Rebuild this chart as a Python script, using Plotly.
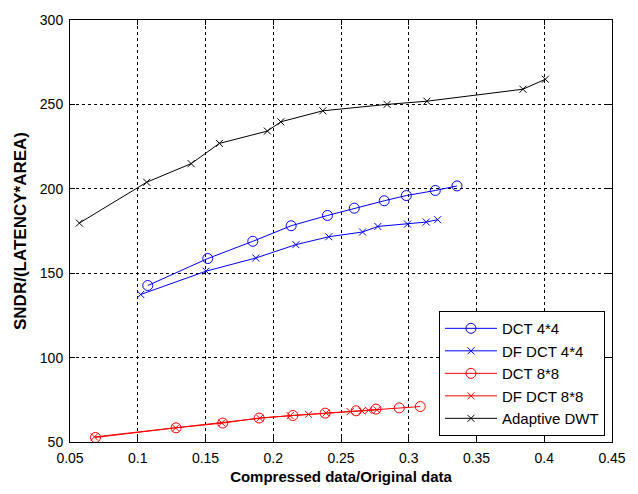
import plotly.graph_objects as go

# ---- data ----
dct44_x = [0.1074, 0.1517, 0.1849, 0.2132, 0.2400, 0.2598, 0.2819, 0.2982, 0.3196, 0.3356]
dct44_y = [142.7, 158.7, 168.9, 178.1, 184.2, 188.5, 192.9, 196.0, 199.0, 201.7]

dfdct44_x = [0.1022, 0.1504, 0.1871, 0.2167, 0.2410, 0.2659, 0.2772, 0.2991, 0.3129, 0.3213]
dfdct44_y = [137.4, 151.2, 159.0, 166.9, 171.6, 174.4, 177.7, 179.1, 180.3, 181.7]

dct88_x = [0.0688, 0.1283, 0.1627, 0.1896, 0.2145, 0.2383, 0.2612, 0.2758, 0.2930, 0.3085]
dct88_y = [52.7, 58.4, 61.2, 64.2, 65.7, 67.1, 68.5, 69.5, 70.2, 71.0]

dfdct88_x = [0.0680, 0.1280, 0.1620, 0.1900, 0.2125, 0.2260, 0.2390, 0.2568, 0.2654, 0.2703, 0.2765]
dfdct88_y = [53.0, 58.3, 61.3, 64.1, 65.6, 66.4, 67.2, 68.0, 68.4, 68.8, 69.1]

dwt_x = [0.0569, 0.1066, 0.1394, 0.1603, 0.1957, 0.2056, 0.2366, 0.2840, 0.3134, 0.3843, 0.4008]
dwt_y = [179.7, 203.9, 214.9, 226.9, 234.2, 239.7, 246.2, 250.0, 251.9, 259.0, 264.9]

x_ticks = [0.05, 0.1, 0.15, 0.2, 0.25, 0.3, 0.35, 0.4, 0.45]
x_tick_labels = ["0.05", "0.1", "0.15", "0.2", "0.25", "0.3", "0.35", "0.4", "0.45"]
y_ticks = [50, 100, 150, 200, 250, 300]
y_tick_labels = ["50", "100", "150", "200", "250", "300"]

series_names = ["DCT 4*4", "DF DCT 4*4", "DCT 8*8", "DF DCT 8*8", "Adaptive DWT"]

BLUE = "#0000ff"
RED = "#ff0000"
BLACK = "#000000"

fig = go.Figure()

def add(xs, ys, name, color, symbol, size):
    fig.add_trace(go.Scatter(
        x=xs, y=ys, name=name, mode="lines+markers",
        line=dict(color=color, width=1),
        marker=dict(symbol=symbol, size=size, color=color,
                    line=dict(color=color, width=1)),
    ))

add(dct44_x, dct44_y, series_names[0], BLUE, "circle-open", 10)
add(dfdct44_x, dfdct44_y, series_names[1], BLUE, "x-thin-open", 7)
add(dct88_x, dct88_y, series_names[2], RED, "circle-open", 10)
add(dfdct88_x, dfdct88_y, series_names[3], RED, "x-thin-open", 7)
add(dwt_x, dwt_y, series_names[4], BLACK, "x-thin-open", 7)

FONT = "Liberation Sans, Arial, sans-serif"

axis_common = dict(
    showline=True, linecolor="black", linewidth=1, mirror="ticks",
    ticks="inside", ticklen=5, tickcolor="black", tickwidth=1,
    showgrid=True, gridcolor="black", gridwidth=1, griddash="3px,3px",
    zeroline=False,
    tickfont=dict(family=FONT, size=14, color="#000000"),
)

fig.update_layout(
    width=638, height=494,
    margin=dict(l=70, r=26, t=17, b=52),
    paper_bgcolor="white", plot_bgcolor="white",
    font=dict(family=FONT, color="black"),
    xaxis=dict(range=[0.05, 0.45], tickvals=x_ticks, ticktext=x_tick_labels,
               ticklabelstandoff=3,
               title=dict(text="<b>Compressed data/Original data</b>",
                          font=dict(family=FONT, size=15), standoff=6),
               **axis_common),
    yaxis=dict(range=[50, 300], tickvals=y_ticks, ticktext=y_tick_labels,
               ticklabelstandoff=3,
               title=dict(text="<b>SNDR/(LATENCY*AREA)</b>",
                          font=dict(family=FONT, size=17), standoff=8),
               **axis_common),
    legend=dict(x=0.987, y=0.014, xanchor="right", yanchor="bottom",
                bgcolor="white", bordercolor="black", borderwidth=1,
                font=dict(family=FONT, size=15), tracegroupgap=0,
                itemwidth=52),
    showlegend=True,
)

fig.write_html("out.html")
